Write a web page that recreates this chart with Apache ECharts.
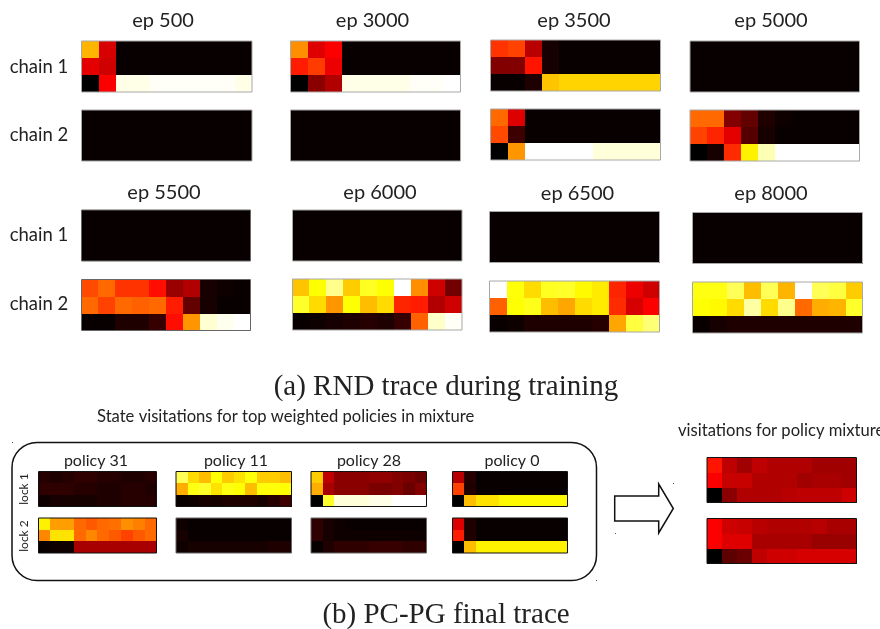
<!DOCTYPE html>
<html>
<head>
<meta charset="utf-8">
<style>html,body{margin:0;padding:0;background:#fff}#c{width:880px;height:629px}</style>
<script src="https://cdn.jsdelivr.net/npm/echarts@6/dist/echarts.min.js"></script>
</head>
<body>
<div id="c"></div>
<script>
// Heat levels: 0 = black, 33 = red, 67 = yellow, 100 = white
const columns = ['1','2','3','4','5','6','7','8','9','10'];
const rows = ['top','middle','bottom'];

const empty = [
  [1,1,1,1,1,1,1,1,1,1],
  [1,1,1,1,1,1,1,1,1,1],
  [1,1,1,1,1,1,1,1,1,1]];

const ep500Chain1 = [
  [57,28,1,1,1,1,1,1,1,1],
  [30,27,1,1,1,1,1,1,1,1],
  [0,33,97,97,99,99,99,99,99,97]];
const ep500Chain2 = empty;
const ep3000Chain1 = [
  [52,29,33,1,1,1,1,1,1,1],
  [37,41,31,1,1,1,1,1,1,1],
  [0,18,23,97,97,97,97,99,99,100]];
const ep3000Chain2 = empty;
const ep3500Chain1 = [
  [40,42,24,3,1,1,1,1,1,1],
  [17,17,36,3,1,1,1,1,1,1],
  [1,1,4,59,61,61,61,61,61,61]];
const ep3500Chain2 = [
  [47,29,1,1,1,1,1,1,1,1],
  [43,8,1,1,1,1,1,1,1,1],
  [0,53,100,100,100,100,95,95,95,95]];
const ep5000Chain1 = empty;
const ep5000Chain2 = [
  [47,47,17,13,4,2,1,1,1,1],
  [42,38,30,11,3,1,1,1,1,1],
  [0,3,39,65,90,100,100,100,100,100]];
const ep5500Chain1 = empty;
const ep5500Chain2 = [
  [43,47,40,40,35,20,23,3,2,1],
  [47,42,47,46,47,37,13,3,1,1],
  [1,1,4,4,7,35,53,94,98,100]];
const ep6000Chain1 = empty;
const ep6000Chain2 = [
  [59,67,85,60,71,67,100,52,27,15],
  [72,62,53,67,58,62,38,37,23,27],
  [1,2,3,4,5,4,7,46,93,99]];
const ep6500Chain1 = empty;
const ep6500Chain2 = [
  [100,68,62,71,72,66,64,38,31,27],
  [46,67,70,58,55,62,64,39,28,33],
  [1,2,4,4,4,4,5,55,75,82]];
const ep8000Chain1 = empty;
const ep8000Chain2 = [
  [69,69,78,58,78,57,100,78,75,60],
  [67,66,62,88,62,85,47,56,57,72],
  [1,3,4,4,4,4,4,4,4,4]];

const policy31Lock1 = [
  [5,4,5,6,6,5,5,4,4,5],
  [6,6,6,5,5,4,4,5,5,4],
  [2,3,3,3,3,4,4,5,5,5]];
const policy31Lock2 = [
  [65,54,54,47,45,47,48,52,50,47],
  [51,63,63,47,51,47,45,42,45,47],
  [1,2,2,22,22,22,22,22,22,22]];
const policy11Lock1 = [
  [78,62,58,67,60,63,68,60,60,58],
  [56,69,72,63,69,67,58,68,68,67],
  [1,2,3,3,4,4,4,3,5,8]];
const policy11Lock2 = [
  [2,1,1,1,1,1,1,1,1,1],
  [3,1,1,1,1,1,1,1,1,1],
  [2,3,3,3,3,3,3,3,4,4]];
const policy28Lock1 = [
  [60,25,18,18,18,19,19,17,16,14],
  [56,22,18,18,18,16,16,17,14,17],
  [0,72,95,95,95,97,97,100,100,100]];
const policy28Lock2 = [
  [6,3,2,1,1,1,1,1,1,1],
  [6,3,2,2,2,2,2,2,2,2],
  [1,4,6,6,6,7,7,7,6,6]];
const policy0Lock1 = [
  [24,5,1,1,1,1,1,1,1,1],
  [42,4,1,1,1,1,1,1,1,1],
  [0,58,63,63,66,66,66,66,66,66]];
const policy0Lock2 = [
  [29,4,1,1,1,1,1,1,1,1],
  [37,4,1,1,1,1,1,1,1,1],
  [0,58,65,65,65,65,65,65,65,65]];
const mixtureLock1 = [
  [36,25,21,25,23,23,23,21,21,21],
  [33,26,26,23,23,23,21,22,22,21],
  [0,18,23,23,23,24,25,25,25,27]];
const mixtureLock2 = [
  [33,27,26,24,23,23,23,24,22,22],
  [33,29,29,22,22,22,22,20,20,20],
  [0,12,14,25,27,27,28,28,28,28]];

const epochTitles = ['ep 500','ep 3000','ep 3500','ep 5000','ep 5500','ep 6000','ep 6500','ep 8000'];
const policyTitles = ['policy 31','policy 11','policy 28','policy 0'];
const rowLabels = ['chain 1','chain 2','lock 1','lock 2'];
const captions = ['(a) RND trace during training','(b) PC-PG final trace'];
const headings = ['State visitations for top weighted policies in mixture','visitations for policy mixture'];

// Layout: [values, left, top, width, height, border colour]
const G = '#a8a8a8', K = '#111', D = '#666';
const panels = [
  [ep500Chain1, 81.5,41,170.5,51,G],[ep500Chain2, 81.5,110,170.5,51,G],
  [ep3000Chain1,290.5,41,170,51,G],[ep3000Chain2,290.5,110,170,51,G],
  [ep3500Chain1,490.5,40,170,51,G],[ep3500Chain2,490.5,109,170,51,G],
  [ep5000Chain1,690,41,169.5,51,G],[ep5000Chain2,690,110,169.5,51,G],
  [ep5500Chain1,81.5,210,169,51,D],[ep5500Chain2,81.5,279.5,169,51,D],
  [ep6000Chain1,292.5,210,169.5,51,G],[ep6000Chain2,292.5,279,169.5,51,G],
  [ep6500Chain1,489.5,211.5,170,51,G],[ep6500Chain2,489.5,281,170,51,G],
  [ep8000Chain1,692.5,212.5,170,51,G],[ep8000Chain2,692.5,282,170,51,G],
  [policy31Lock1,38.5,471.5,118,35,K],[policy31Lock2,38.5,518,118,35,K],
  [policy11Lock1,176,471.5,115.5,35,K],[policy11Lock2,176,518,115.5,35,D],
  [policy28Lock1,311,471.5,115.5,35,K],[policy28Lock2,311,518,115.5,35,D],
  [policy0Lock1,452.5,471.5,115,35,K],[policy0Lock2,452.5,518,115,35,K],
  [mixtureLock1,707,457.5,149.5,45,K],[mixtureLock2,707,518.5,149.5,45,K]
];

const SANS = 'Lato, "Open Sans", sans-serif';
const TEXT = '#222';
function label(text, x, y, size, align, font) {
  return { text, left: x, top: y, padding: 0, textAlign: align || 'center', textVerticalAlign: 'middle',
    textStyle: { fontFamily: font || SANS, fontSize: size, fontWeight: 'normal', color: TEXT } };
}
const titles = [
  label(epochTitles[0],163,21,20), label(epochTitles[1],372.5,21,20),
  label(epochTitles[2],574,21,20), label(epochTitles[3],771,21,20),
  label(epochTitles[4],164,193,20), label(epochTitles[5],380,193,20),
  label(epochTitles[6],577.5,194,20), label(epochTitles[7],771,194,20),
  label(rowLabels[0],39,67.5,18.5), label(rowLabels[1],39,135.5,18.5),
  label(rowLabels[0],39,235.5,18.5), label(rowLabels[1],39,304.5,18.5),
  label(policyTitles[0],96,461,16), label(policyTitles[1],236,461,16),
  label(policyTitles[2],369,461,16), label(policyTitles[3],512,461,16),
  label(captions[0],446,387,29,'center','"Liberation Serif"'),
  label(captions[1],446,615,29,'center','"Liberation Serif"'),
  label(headings[0],97,417,16.6,'left'),
  label(headings[1],678,431,16.6,'left')
];

function renderCell(params, api) {
  const c = api.coord([api.value(0), api.value(1)]);
  const s = api.size([1, 1]);
  const x0 = Math.round(c[0] - s[0] / 2), x1 = Math.round(c[0] + s[0] / 2);
  const y0 = Math.round(c[1] - s[1] / 2), y1 = Math.round(c[1] + s[1] / 2);
  return { type: 'rect', shape: { x: x0, y: y0, width: x1 - x0, height: y1 - y0 },
    style: { fill: api.visual('color'), stroke: null } };
}

const grid = [], xAxis = [], yAxis = [], series = [];
panels.forEach((p, i) => {
  grid.push({ left: p[1], top: p[2], width: p[3], height: p[4], show: true, z: 5,
    borderColor: p[5], borderWidth: 1, backgroundColor: 'transparent', containLabel: false });
  const axis = { gridIndex: i, type: 'category', show: false };
  xAxis.push({ ...axis, data: columns });
  yAxis.push({ ...axis, data: rows, inverse: true });
  const cells = [];
  p[0].forEach((row, r) => row.forEach((v, c) => cells.push([c, r, v])));
  series.push({ type: 'custom', xAxisIndex: i, yAxisIndex: i, data: cells, silent: true,
    encode: { x: 0, y: 1 }, renderItem: renderCell });
});

const chart = echarts.init(document.getElementById('c'), null, { renderer: 'canvas' });
const stroke = { stroke: '#111', lineWidth: 1.5, fill: 'none' };
const speck = (x, y) => ({ type: 'rect', shape: { x, y, width: 1, height: 1 }, style: { fill: '#555' } });
chart.setOption({
  animation: false,
  backgroundColor: '#fff',
  title: titles,
  tooltip: { show: false },
  visualMap: { show: false, type: 'continuous', min: 0, max: 100, dimension: 2,
    seriesIndex: series.map((s, i) => i),
    inRange: { color: ['#000000', '#ff0000', '#ffff00', '#ffffff'] } },
  grid, xAxis, yAxis, series,
  graphic: [
    { type: 'rect', shape: { x: 12, y: 442.5, width: 584.5, height: 138, r: 25 }, style: stroke },
    { type: 'polygon', shape: { points: [[614.7,496],[658.7,496],[658.7,484],[673.3,508.5],[658.7,533],[658.7,521],[614.7,521]] }, style: stroke },
    { type: 'text', rotation: Math.PI / 2, x: 24, y: 489, style: { text: rowLabels[2], font: '12px ' + SANS, fill: TEXT, textAlign: 'center', textVerticalAlign: 'middle' } },
    { type: 'text', rotation: Math.PI / 2, x: 24, y: 536, style: { text: rowLabels[3], font: '12px ' + SANS, fill: TEXT, textAlign: 'center', textVerticalAlign: 'middle' } },
    speck(12, 442), speck(596, 580), speck(673, 483), speck(615, 533)
  ]
});
</script>
</body>
</html>
